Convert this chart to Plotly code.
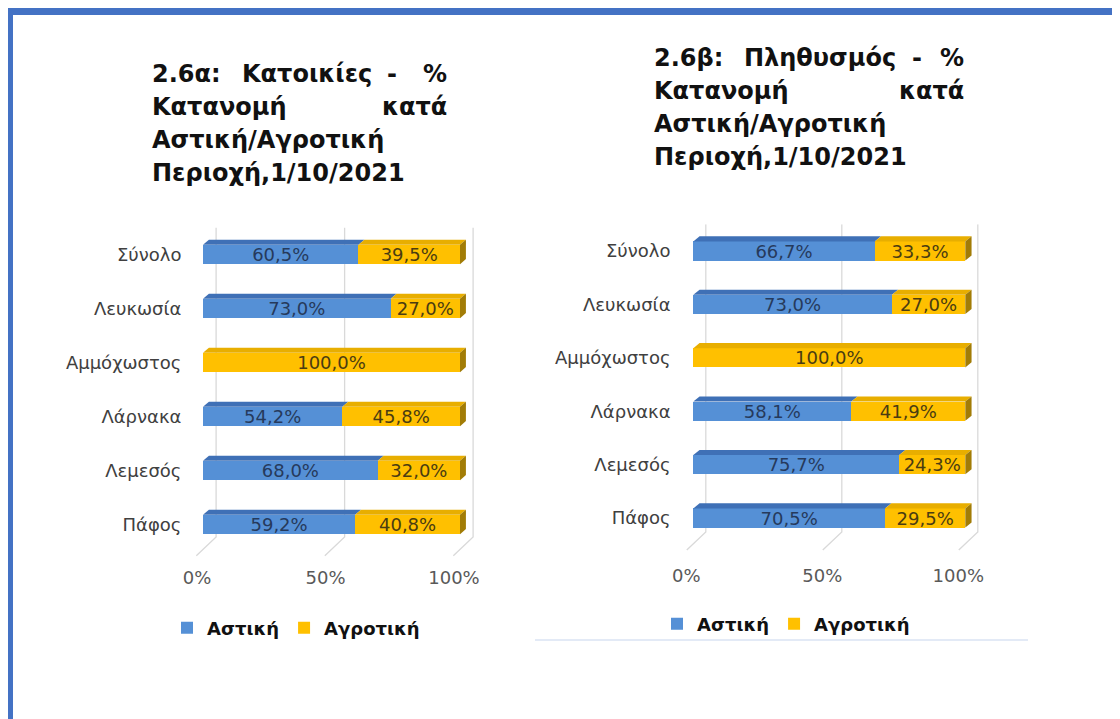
import plotly.graph_objects as go

# data (percent of urban / rural, 1/10/2021)
regions = ["Σύνολο", "Λευκωσία", "Αμμόχωστος", "Λάρνακα", "Λεμεσός", "Πάφος"]
series_names = ["Αστική", "Αγροτική"]

dwellings_urban = [60.5, 73.0, 0.0, 54.2, 68.0, 59.2]
dwellings_rural = [39.5, 27.0, 100.0, 45.8, 32.0, 40.8]

population_urban = [66.7, 73.0, 0.0, 58.1, 75.7, 70.5]
population_rural = [33.3, 27.0, 100.0, 41.9, 24.3, 29.5]

x_ticks = [0, 50, 100]
x_tick_labels = ["0%", "50%", "100%"]

# page body has an 8px margin, so the figure is 8px smaller than the window
OFF = 8
W, H = 1120 - OFF, 719 - OFF
FONT = "DejaVu Sans"

BLUE, BLUE_TOP = "#5590D6", "#3F70B6"
GOLD, GOLD_TOP, GOLD_SIDE = "#FFC000", "#E8AE00", "#A27C06"
TXT_BLUE, TXT_GOLD = "#263A5C", "#4A3C12"
GRID = "#D9D9D9"
FRAME = "#4472C4"


def px_x(p):
    return (p - OFF) / W


def px_y(p):
    return 1 - (p - OFF) / H


# pixel geometry of the two panels (screen pixels)
panels = [
    dict(ax="", px0=203.0, ppu=2.57, row0=254.5, step=54.0, xr=(-8, 110), yr=(-0.5, 5.75),
         grid_dx=5.1, grid_fx=2.6, floor_b=5.23, floor_f=5.58, shift=-6,
         legend="legend", urban=dwellings_urban, rural=dwellings_rural),
    dict(ax="2", px0=693.3, ppu=2.72, row0=251.0, step=53.4, xr=(-8, 110), yr=(-0.5, 5.85),
         grid_dx=4.6, grid_fx=2.4, floor_b=5.26, floor_f=5.6, shift=-7,
         legend="legend2", urban=population_urban, rural=population_rural),
]

HALF = 0.18     # half bar thickness (category units)
DEPTH_Y = 0.095
DEPTH_X = 2.3


def _lbl(v):
    return f"{v:.1f}%".replace(".", ",") if v > 0 else ""


fig = go.Figure()
shapes = []

for p in panels:
    xa, ya = "x" + p["ax"], "y" + p["ax"]
    ypos = list(range(len(regions)))
    for name, vals, col, tcol in [
        (series_names[0], p["urban"], BLUE, TXT_BLUE),
        (series_names[1], p["rural"], GOLD, TXT_GOLD),
    ]:
        fig.add_trace(go.Bar(
            y=ypos, x=vals, orientation="h", width=2 * HALF,
            name=name, marker=dict(color=col, line=dict(width=0)),
            text=[_lbl(v) for v in vals], textposition="inside",
            insidetextanchor="middle", textangle=0, constraintext="none",
            textfont=dict(family=FONT, size=18, color=tcol),
            xaxis=xa, yaxis=ya, legend=p["legend"], hoverinfo="skip",
        ))

    # back-wall gridlines with slanted floor
    for v in x_ticks:
        shapes.append(dict(
            type="path", xref=xa, yref=ya, layer="below",
            path=(f"M{v + p['grid_dx']},{p['yr'][0]} L{v + p['grid_dx']},{p['floor_b']} "
                  f"L{v - p['grid_fx']},{p['floor_f']}"),
            line=dict(color=GRID, width=1.3),
        ))

    # 3-D top faces and end side face
    for i, (u, r) in enumerate(zip(p["urban"], p["rural"])):
        top = i - HALF
        segs = [(0, u, BLUE_TOP), (u, u + r, GOLD_TOP)]
        for x0, x1, c in segs:
            if x1 - x0 <= 0:
                continue
            shapes.append(dict(
                type="path", xref=xa, yref=ya, layer="above",
                path=(f"M{x0},{top} L{x1},{top} L{x1 + DEPTH_X},{top - DEPTH_Y} "
                      f"L{x0 + DEPTH_X},{top - DEPTH_Y} Z"),
                fillcolor=c, line=dict(width=0),
            ))
        tot = u + r
        shapes.append(dict(
            type="path", xref=xa, yref=ya, layer="above",
            path=(f"M{tot},{top} L{tot + DEPTH_X},{top - DEPTH_Y} "
                  f"L{tot + DEPTH_X},{i + HALF - DEPTH_Y} L{tot},{i + HALF} Z"),
            fillcolor=GOLD_SIDE, line=dict(width=0),
        ))

# frame and separator
shapes += [
    dict(type="rect", xref="paper", yref="paper", x0=0, x1=1, y0=px_y(15), y1=1,
         fillcolor=FRAME, line=dict(width=0)),
    dict(type="rect", xref="paper", yref="paper", x0=0, x1=px_x(13), y0=0, y1=1,
         fillcolor=FRAME, line=dict(width=0)),
    dict(type="line", xref="paper", yref="paper", x0=px_x(535), x1=px_x(1028),
         y0=px_y(640), y1=px_y(640), line=dict(color="#E3EAF6", width=2)),
]

# justified titles: (text, x_px, anchor, y_px)
title_words = [
    ("2.6α:", 150, "left", 74), ("Κατοικίες", 240, "left", 74), ("-", 392, "center", 74),
    ("%", 449, "right", 74),
    ("Κατανομή", 150, "left", 107), ("κατά", 449, "right", 107),
    ("Αστική/Αγροτική", 150, "left", 140),
    ("Περιοχή,1/10/2021", 150, "left", 173),
    ("2.6β:", 652, "left", 58), ("Πληθυσμός", 742, "left", 58), ("-", 917, "center", 58),
    ("%", 966, "right", 58),
    ("Κατανομή", 652, "left", 91), ("κατά", 966, "right", 91),
    ("Αστική/Αγροτική", 652, "left", 124),
    ("Περιοχή,1/10/2021", 652, "left", 157),
]
annotations = [
    dict(text=t, x=px_x(x), y=px_y(y), xref="paper", yref="paper", xanchor=a,
         yanchor="middle", showarrow=False,
         font=dict(family=FONT, size=24, color="#111111", weight="bold"))
    for t, x, a, y in title_words
]

layout_axes = {}
for p in panels:
    xd = [px_x(p["px0"] + p["xr"][0] * p["ppu"]), px_x(p["px0"] + p["xr"][1] * p["ppu"])]
    yd = [px_y(p["row0"] + p["yr"][1] * p["step"]), px_y(p["row0"] + p["yr"][0] * p["step"])]
    layout_axes["xaxis" + p["ax"]] = dict(
        domain=xd, range=list(p["xr"]), tickvals=x_ticks, ticktext=x_tick_labels,
        showgrid=False, zeroline=False, showline=False, ticks="",
        ticklabelshift=p["shift"], anchor="y" + p["ax"],
        tickfont=dict(family=FONT, size=18, color="#595959"), fixedrange=True,
    )
    layout_axes["yaxis" + p["ax"]] = dict(
        domain=yd, range=[p["yr"][1], p["yr"][0]], tickvals=list(range(len(regions))),
        ticktext=regions, showgrid=False, zeroline=False, showline=False, ticks="",
        anchor="x" + p["ax"],
        tickfont=dict(family=FONT, size=18, color="#404040"), fixedrange=True,
    )

leg_common = dict(orientation="h", yanchor="middle", xanchor="left",
                  bgcolor="rgba(0,0,0,0)", traceorder="normal",
                  font=dict(family=FONT, size=18, color="#111111", weight="bold"))

fig.update_layout(
    width=W, height=H, margin=dict(l=0, r=0, t=0, b=0),
    paper_bgcolor="white", plot_bgcolor="white",
    barmode="stack", separators=",.", showlegend=True,
    shapes=shapes, annotations=annotations,
    legend=dict(x=px_x(167), y=px_y(628), **leg_common),
    legend2=dict(x=px_x(657), y=px_y(624), **leg_common),
    **layout_axes,
)

fig.write_html("out.html")
